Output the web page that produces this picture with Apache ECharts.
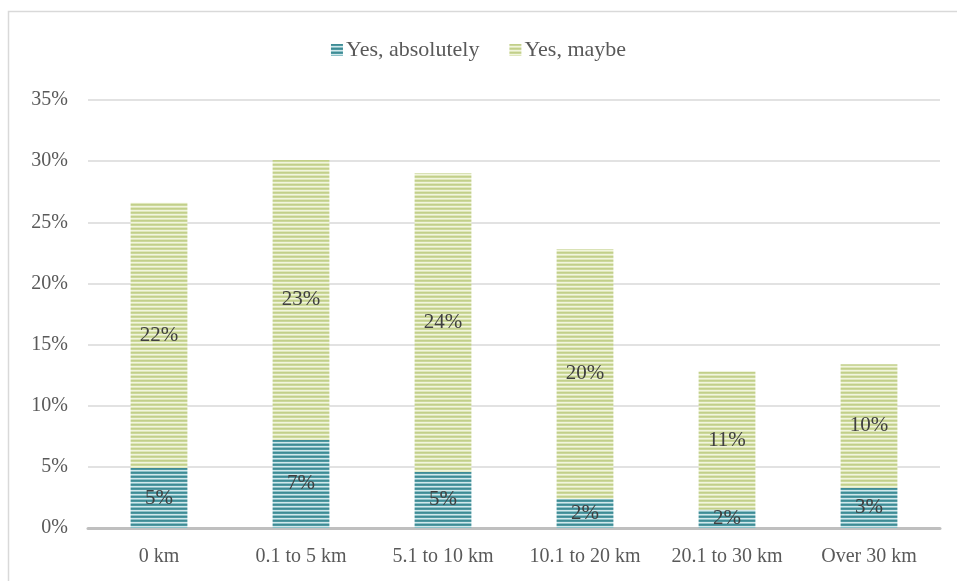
<!DOCTYPE html>
<html>
<head>
<meta charset="utf-8">
<script src="https://cdn.jsdelivr.net/npm/echarts@6/dist/echarts.min.js"></script>
<style>
html,body{margin:0;padding:0;background:#fff;}
#chart{width:957px;height:581px;}
</style>
</head>
<body>
<div id="chart"></div>
<script>
var categories = ['0 km', '0.1 to 5 km', '5.1 to 10 km', '10.1 to 20 km', '20.1 to 30 km', 'Over 30 km'];
var yesAbsolutely = [4.9, 7.2, 4.6, 2.4, 1.5, 3.3];
var yesMaybe = [21.7, 22.9, 24.4, 20.4, 11.3, 10.1];
var yTicks = [0, 5, 10, 15, 20, 25, 30, 35];

function stripePattern(rows) {
  var c = document.createElement('canvas');
  c.width = 8; c.height = rows.length;
  var ctx = c.getContext('2d');
  for (var i = 0; i < rows.length; i++) {
    ctx.fillStyle = rows[i];
    ctx.fillRect(0, i, 8, 1);
  }
  return { image: c, repeat: 'repeat' };
}
var tealPat = stripePattern(['#3f8b94', '#4e99a2', '#d2e8eb', '#8cc1c7']);
var greenPat = stripePattern(['#c2cf8a', '#ccd89c', '#f1f5de', '#dfe7bb']);

var serif = '"Liberation Serif", "DejaVu Serif", serif';
var chart = echarts.init(document.getElementById('chart'));
chart.setOption({
  animation: false,
  textStyle: { fontFamily: serif },
  graphic: [{
    type: 'rect', silent: true,
    shape: { x: 8.5, y: 11.5, width: 1200, height: 1200 },
    style: { fill: 'none', stroke: '#d9d9d9', lineWidth: 1.5 }
  }],
  legend: {
    top: 34, left: 'center',
    itemWidth: 12, itemHeight: 12, itemGap: 30,
    icon: 'rect',
    textStyle: { fontFamily: serif, fontSize: 22, color: '#595959', padding: [0, 0, 0, -2] },
    data: ['Yes, absolutely', 'Yes, maybe']
  },
  grid: { left: 88, right: 17, top: 100, bottom: 53, containLabel: false },
  xAxis: {
    type: 'category',
    data: categories,
    axisLine: { lineStyle: { color: '#bfbfbf', width: 3 } },
    axisTick: { show: false },
    axisLabel: { interval: 0, fontFamily: serif, fontSize: 20, color: '#595959', margin: 19 }
  },
  yAxis: {
    type: 'value',
    min: 0, max: 35, interval: 5,
    axisLine: { show: false },
    axisTick: { show: false },
    splitLine: { lineStyle: { color: '#d9d9d9', width: 1.5 } },
    axisLabel: {
      fontFamily: serif, fontSize: 20, color: '#595959', margin: 20,
      formatter: function (v) { return yTicks.indexOf(v) >= 0 ? v + '%' : ''; }
    }
  },
  series: [{
    name: 'Yes, absolutely',
    type: 'bar', stack: 'total', barWidth: '40%',
    data: yesAbsolutely,
    itemStyle: { color: tealPat },
    label: {
      show: true, position: 'inside', fontFamily: serif, fontSize: 21, color: '#404040',
      formatter: function (p) { return Math.round(p.value) + '%'; }
    }
  }, {
    name: 'Yes, maybe',
    type: 'bar', stack: 'total', barWidth: '40%',
    data: yesMaybe,
    itemStyle: { color: greenPat },
    label: {
      show: true, position: 'inside', fontFamily: serif, fontSize: 21, color: '#404040',
      formatter: function (p) { return Math.round(p.value) + '%'; }
    }
  }]
});
</script>
</body>
</html>
